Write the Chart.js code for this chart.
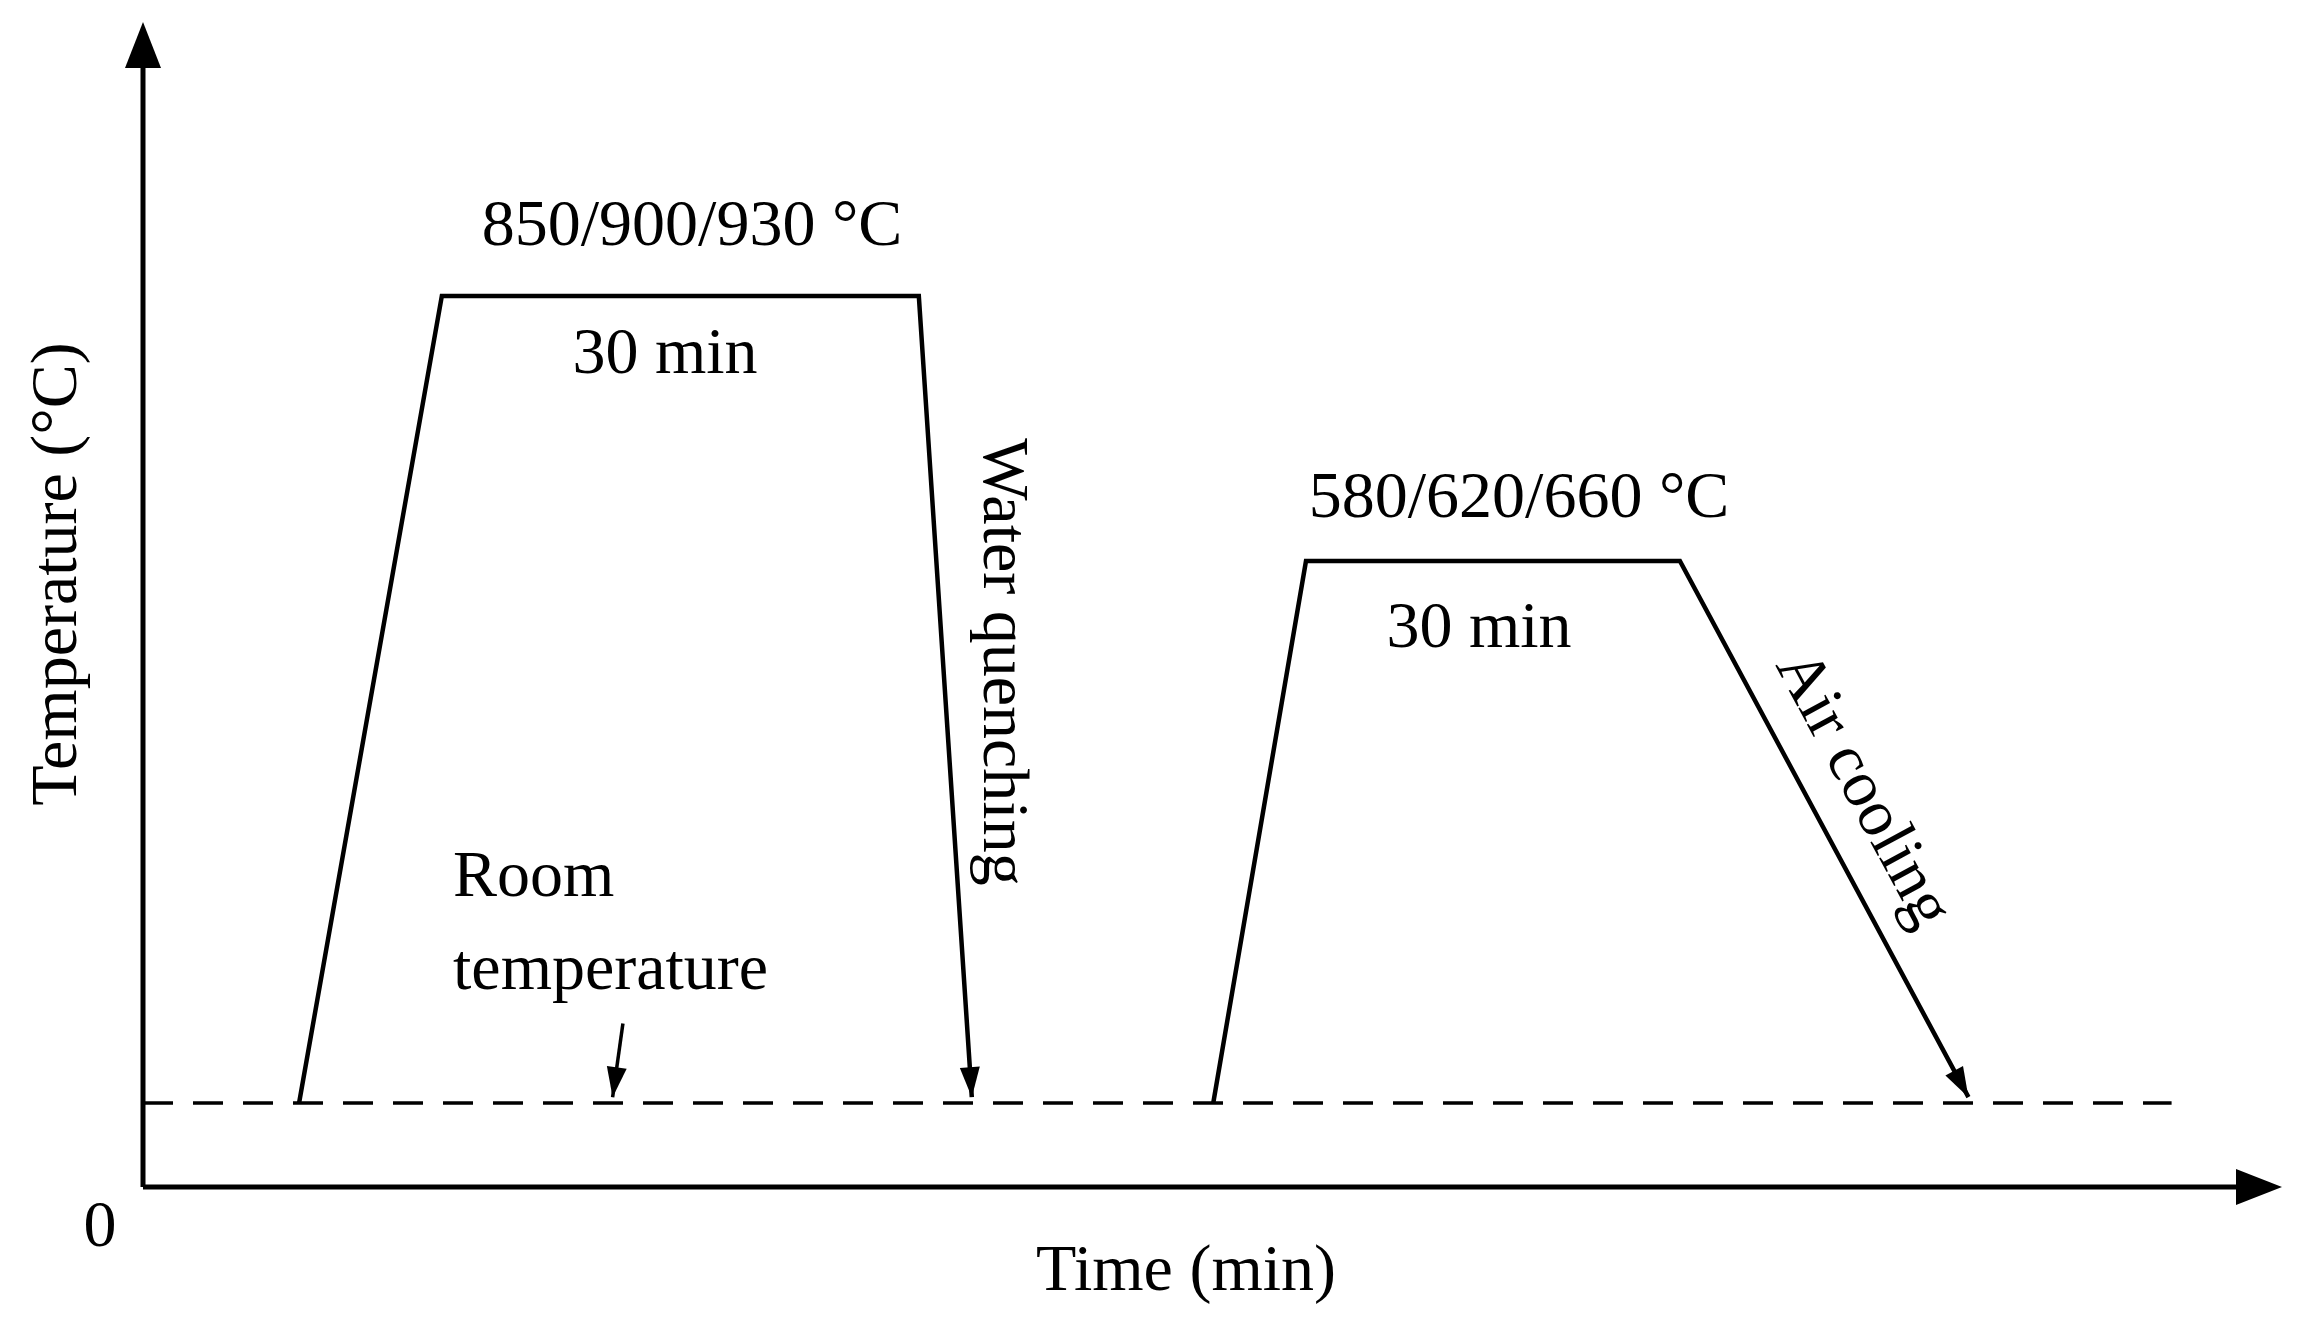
<!DOCTYPE html>
<html><head><meta charset="utf-8">
<script src="https://cdn.jsdelivr.net/npm/chart.js@4"></script>
<style>body{margin:0;background:#fff}#w{width:2302px;height:1325px}</style>
</head><body><div id="w"><canvas id="c" width="2302" height="1325"></canvas></div>
<script>
// data in diagram units (origin at axes corner)
const roomTemp = 57;
const quenchCycleX = [106, 203, 527, 563];
const quenchCycleY = [57, 605, 605, 61];
const temperCycleX = [727, 790, 1044, 1240];
const temperCycleY = [57, 425, 425, 61];
const roomLineX = [0, 1378];
const pointerX = [326, 319];
const pointerY = [111, 61];
const zip = (xs, ys) => xs.map((x, i) => ({x, y: ys[i]}));

const F = 'Liberation Serif, Times New Roman, serif';
function head(ctx, x1, y1, x2, y2, len, w) {
  const a = Math.atan2(y2 - y1, x2 - x1);
  ctx.beginPath();
  ctx.moveTo(x2, y2);
  ctx.lineTo(x2 - len*Math.cos(a) + w*Math.sin(a), y2 - len*Math.sin(a) - w*Math.cos(a));
  ctx.lineTo(x2 - len*Math.cos(a) - w*Math.sin(a), y2 - len*Math.sin(a) + w*Math.cos(a));
  ctx.closePath(); ctx.fill();
}
const deco = {
  id: 'deco',
  afterDraw(chart) {
    const ctx = chart.ctx, xs = chart.scales.x, ys = chart.scales.y;
    const X = v => xs.getPixelForValue(v), Y = v => ys.getPixelForValue(v);
    ctx.save();
    ctx.fillStyle = '#000'; ctx.strokeStyle = '#000'; ctx.lineWidth = 5;
    // axes
    const ox = X(0), oy = Y(0);
    ctx.beginPath(); ctx.moveTo(ox, oy); ctx.lineTo(ox, 60); ctx.stroke();
    head(ctx, ox, oy, ox, 22, 46, 18);
    ctx.beginPath(); ctx.moveTo(ox, oy); ctx.lineTo(2245, oy); ctx.stroke();
    head(ctx, ox, oy, 2282, oy, 46, 18);
    // arrowheads of cycles
    chart.data.datasets.forEach(ds => {
      if (!ds.arrow) return;
      const d = ds.data, n = d.length;
      head(ctx, X(d[n-2].x), Y(d[n-2].y), X(d[n-1].x), Y(d[n-1].y), 30, 10);
    });
    ctx.textAlign = 'center'; ctx.textBaseline = 'middle';
    ctx.font = '66px ' + F;
    ctx.fillText('850/900/930 °C', 692, 228);
    ctx.fillText('30 min', 665, 356);
    ctx.fillText('580/620/660 °C', 1519, 500);
    ctx.fillText('30 min', 1479, 630);
    ctx.fillText('0', 100, 1229);
    ctx.fillText('Time (min)', 1186, 1273);
    ctx.textAlign = 'left';
    ctx.fillText('Room', 453, 879);
    ctx.fillText('temperature', 453, 972);
    ctx.textAlign = 'center';
    ctx.save(); ctx.translate(1001, 662); ctx.rotate(Math.PI/2); ctx.fillText('Water quenching', 0, 0); ctx.restore();
    ctx.save(); ctx.translate(1862, 790); ctx.rotate(61.7*Math.PI/180); ctx.fillText('Air cooling', 0, 0); ctx.restore();
    ctx.save(); ctx.translate(59, 574); ctx.rotate(-Math.PI/2); ctx.fillText('Temperature (°C)', 0, 0); ctx.restore();
    ctx.restore();
  }
};
const line = (data, extra) => Object.assign({data, borderColor:'#000', borderWidth:4.5, pointRadius:0, fill:false, tension:0}, extra);
new Chart(document.getElementById('c'), {
  type: 'scatter',
  data: { datasets: [
    line(zip(roomLineX, [roomTemp, roomTemp]), {borderDash:[30,20], borderWidth:3.5, showLine:true}),
    line(zip(quenchCycleX, quenchCycleY), {showLine:true, arrow:true}),
    line(zip(temperCycleX, temperCycleY), {showLine:true, arrow:true}),
    line(zip(pointerX, pointerY), {showLine:true, arrow:true, borderWidth:3.5})
  ]},
  options: {
    responsive:false, animation:false, devicePixelRatio:1,
    layout:{padding:{left:143, right:20, top:22, bottom:138}},
    plugins:{legend:{display:false}, tooltip:{enabled:false}},
    scales:{ x:{type:'linear', min:0, max:1453, display:false},
             y:{type:'linear', min:0, max:791, display:false} }
  },
  plugins:[deco]
});
</script></body></html>
